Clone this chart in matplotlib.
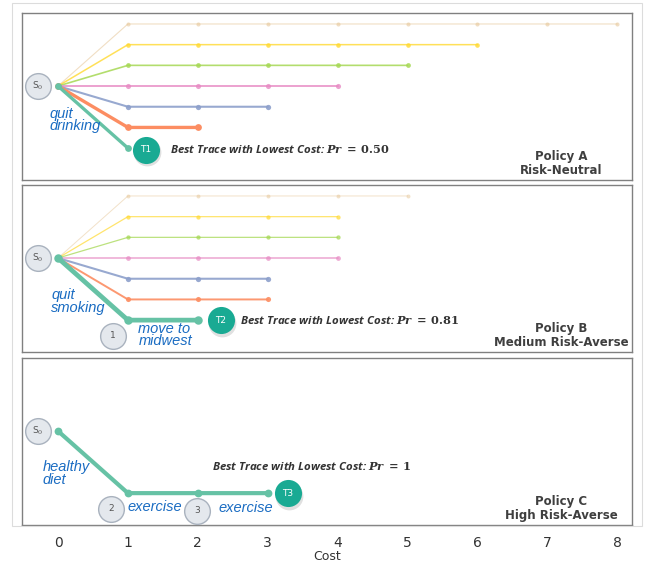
import matplotlib.pyplot as plt
from matplotlib.patches import Rectangle

# ---- data ---------------------------------------------------------------
# each trace: rows above/below the start node and final cost reached
rows = [3, 2, 1, 0, -1, -2, -3]
colors = ['#e5c494', '#ffd92f', '#a6d854', '#e78ac3', '#8da0cb', '#fc8d62', '#66c2a5']
costs_a = [8, 6, 5, 4, 3, 2, 1]
costs_b = [5, 4, 4, 4, 3, 3, 2]
costs_c = [3]
prob_a = '0.50'
prob_b = '0.81'
prob_c = '1'
cost_ticks = [0, 1, 2, 3, 4, 5, 6, 7, 8]

# line widths / alpha per trace
lw_a = [0.8, 1.1, 1.2, 1.4, 1.5, 2.4, 2.4]
lw_b = [0.7, 0.9, 0.9, 1.2, 1.5, 1.4, 3.4]
al_a = [0.55, 0.8, 0.85, 0.8, 0.9, 1.0, 1.0]
al_b = [0.5, 0.7, 0.75, 0.7, 0.9, 0.9, 1.0]

gray_face = '#e4e8ed'
gray_edge = '#a9b2be'
teal = '#19aa93'
blue_txt = '#1a6cc2'
pol_txt = '#3f3f3f'

plt.rcParams['mathtext.fontset'] = 'dejavuserif'

fig = plt.figure(figsize=(6.49, 5.65), dpi=100)
W, H = 649.0, 565.0

# light outer frame
fig.add_artist(Rectangle((12 / W, 1 - 526 / H), 630 / W, 523 / H,
                         transform=fig.transFigure, fill=False,
                         ec='#dcdcdc', lw=0.8))


def make_ax(top_px, bot_px):
    ax = fig.add_axes([22 / W, 1 - bot_px / H, 610 / W, (bot_px - top_px) / H])
    ax.set_xlim(-0.515, 8.21)
    ax.set_ylim(-4.54, 3.53)
    for s in ax.spines.values():
        s.set_color('#808080')
        s.set_linewidth(1.0)
    ax.set_xticks([])
    ax.set_yticks([])
    return ax


def trace(ax, row, cost, color, lw, alpha):
    if row == 0:
        xs = list(range(0, cost + 1))
        ys = [0] * len(xs)
    else:
        xs = [0] + list(range(1, cost + 1))
        ys = [0] + [row] * cost
    ms = 2.0 + lw * 1.2
    ax.plot(xs, ys, color=color, lw=lw, alpha=alpha, marker='o',
            ms=ms, mec='none', solid_capstyle='round', zorder=2)


def gray_node(ax, x, y, txt, fs=6.5):
    ax.plot(x, y, 'o', ms=18.5, mfc=gray_face, mec=gray_edge, mew=1.0, zorder=4)
    ax.text(x, y, txt, ha='center', va='center', fontsize=fs,
            color='#555555', zorder=5)


def teal_node(ax, x, y, txt):
    ax.plot(x + 0.02, y - 0.12, 'o', ms=20, mfc='#000000', mec='none',
            alpha=0.12, zorder=3)
    ax.plot(x, y, 'o', ms=19.5, mfc=teal, mec='none', zorder=4)
    ax.text(x, y, txt, ha='center', va='center', fontsize=6.5,
            color='white', zorder=5)


def best_text(ax, x, y, prob):
    ax.text(x, y, 'Best Trace with Lowest Cost: ' +
            r'$\boldsymbol{Pr}\;\mathbf{=}\;\mathbf{' + prob + '}$',
            ha='left', va='center', fontsize=8.2, style='italic',
            weight='bold', color='#333333', family='Open Sans')


def policy_text(ax, txt):
    ax.text(7.2, -3.75, txt, ha='center', va='center', fontsize=8.5,
            weight='bold', color=pol_txt, linespacing=1.1)


def blue_label(ax, x, y, txt):
    ax.text(x, y, txt, ha='left', va='center', fontsize=10.5,
            style='italic', color=blue_txt, linespacing=0.85,
            family='Liberation Sans', zorder=6)


# ---- Policy A -----------------------------------------------------------
ax_a = make_ax(13, 180)
for r, c, col, lw, al in zip(rows, costs_a, colors, lw_a, al_a):
    trace(ax_a, r, c, col, lw, al)
gray_node(ax_a, -0.286, 0, r'S$_0$')
blue_label(ax_a, -0.12, -1.65, 'quit\ndrinking')
teal_node(ax_a, 1.26, -3.08, 'T1')
best_text(ax_a, 1.6, -3.08, prob_a)
policy_text(ax_a, 'Policy A\nRisk-Neutral')

# ---- Policy B -----------------------------------------------------------
ax_b = make_ax(185, 352)
for r, c, col, lw, al in zip(rows, costs_b, colors, lw_b, al_b):
    trace(ax_b, r, c, col, lw, al)
gray_node(ax_b, -0.286, 0, r'S$_0$')
blue_label(ax_b, -0.1, -2.1, 'quit\nsmoking')
gray_node(ax_b, 0.79, -3.75, '1')
blue_label(ax_b, 1.15, -3.72, 'move to\nmidwest')
teal_node(ax_b, 2.33, -3.0, 'T2')
best_text(ax_b, 2.6, -3.03, prob_b)
policy_text(ax_b, 'Policy B\nMedium Risk-Averse')

# ---- Policy C -----------------------------------------------------------
ax_c = make_ax(358, 525)
trace(ax_c, -3, costs_c[0], colors[6], 3.0, 1.0)
gray_node(ax_c, -0.286, 0, r'S$_0$')
blue_label(ax_c, -0.22, -2.05, 'healthy\ndiet')
gray_node(ax_c, 0.76, -3.75, '2')
blue_label(ax_c, 1.0, -3.65, 'exercise')
gray_node(ax_c, 1.99, -3.85, '3')
blue_label(ax_c, 2.3, -3.7, 'exercise')
teal_node(ax_c, 3.29, -3.0, 'T3')
best_text(ax_c, 2.2, -1.75, prob_c)
policy_text(ax_c, 'Policy C\nHigh Risk-Averse')

ax_c.set_xticks(cost_ticks)
ax_c.set_xticklabels([str(t) for t in cost_ticks], fontsize=10, color='#333333')
ax_c.tick_params(axis='x', length=0, pad=8)
ax_c.set_xlabel('Cost', fontsize=9, color='#333333', labelpad=0)

fig.savefig('out.png', dpi=100)
